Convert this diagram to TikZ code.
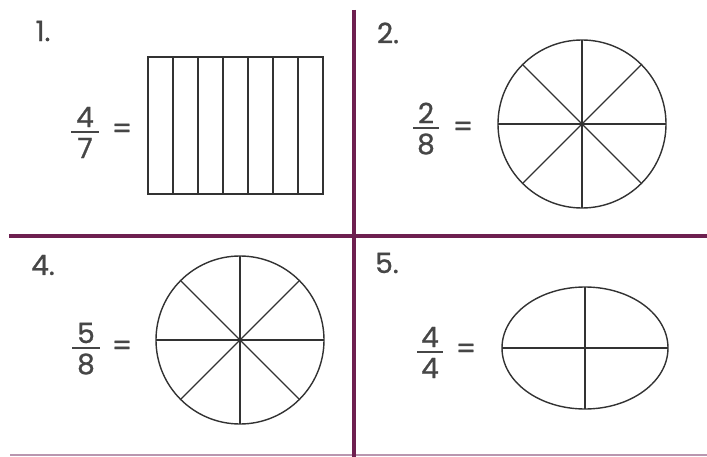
\documentclass[tikz,border=0pt]{standalone}
\usepackage{fontspec}
\setmainfont{Poppins}
\newfontfamily\worksheetfont{Poppins}[FakeBold=0.9]
\usetikzlibrary{shapes.geometric,calc}
\definecolor{plum}{RGB}{110,32,80}
\definecolor{plumlight}{RGB}{185,150,175}
\definecolor{txtgray}{RGB}{70,70,70}
\definecolor{shapegray}{RGB}{50,50,50}
\tikzset{
  divider/.style={draw=plum,line width=4.5pt},
  baseline rule/.style={draw=plumlight,line width=1.5pt},
  figline/.style={draw=shapegray,line width=1.4pt},
  numlabel/.style={inner sep=0pt,text=txtgray,font=\worksheetfont\fontsize{28}{28}\selectfont},
  digit/.style={inner sep=0pt,text=txtgray,font=\worksheetfont\fontsize{28}{28}\selectfont},
  fracbar/.style={draw=txtgray,line width=2.8pt},
  wheel/.style={circle,figline,minimum size=168pt,inner sep=0pt,outer sep=0pt},
}
\begin{document}
\begin{tikzpicture}[x=1pt,y=-1pt]
\useasboundingbox (0,0) rectangle (707,457);
% dividers
\coordinate (vt) at (354,10);
\coordinate (vb) at (354,457);
\coordinate (hl) at (9,236);
\coordinate (hr) at (707,236);
\coordinate (bl) at (10,455);
\coordinate (br) at (707,455);
\draw[baseline rule] (bl) -- (br);
\draw[divider] (vt) -- (vb);
\draw[divider] (hl) -- (hr);
% labels
\node[numlabel] (l1) at (43,31) {1.};
\node[numlabel] (l2) at (388,33) {2.};
\node[numlabel] (l4) at (43,265) {4.};
\node[numlabel] (l5) at (387,263) {5.};
% fraction 1: 4/7
\node[digit] (n1) at (85,117) {4};
\node[digit] (d1) at (85,148) {7};
\draw[fracbar] (71,132) -- (99,132);
\node[digit] (e1) at (122,131) {=};
% fraction 2: 2/8
\node[digit] (n2) at (426,113) {2};
\node[digit] (d2) at (426,144) {8};
\draw[fracbar] (413,128) -- (439,128);
\node[digit] (e2) at (463,129) {=};
% fraction 4: 5/8
\node[digit] (n4) at (86,333) {5};
\node[digit] (d4) at (86,364) {8};
\draw[fracbar] (72,348) -- (100,348);
\node[digit] (e4) at (122,348) {=};
% fraction 5: 4/4
\node[digit] (n5) at (430,337) {4};
\node[digit] (d5) at (430,368) {4};
\draw[fracbar] (417,352) -- (443,352);
\node[digit] (e5) at (466,351) {=};
% rectangle with 7 columns
\node[rectangle,figline,minimum width=175pt,minimum height=137pt,inner sep=0pt,outer sep=0pt] (r1) at (235.5,125.5) {};
\foreach \k in {1,...,6}{
  \draw[figline] ($(r1.north west)+(25*\k,0)$) -- ($(r1.south west)+(25*\k,0)$);
}
% circle 2
\node[wheel] (c2) at (582,124) {};
\foreach \a in {0,45,90,135}{
  \draw[figline] (c2.\a) -- (c2.\the\numexpr\a+180\relax);
}
% circle 4
\node[wheel] (c4) at (240,340) {};
\foreach \a in {0,45,90,135}{
  \draw[figline] (c4.\a) -- (c4.\the\numexpr\a+180\relax);
}
% ellipse 5
\node[ellipse,figline,minimum width=166pt,minimum height=122pt,inner sep=0pt,outer sep=0pt] (e5s) at (585,348) {};
\draw[figline] (e5s.north) -- (e5s.south);
\draw[figline] (e5s.west) -- (e5s.east);
\end{tikzpicture}
\end{document}
